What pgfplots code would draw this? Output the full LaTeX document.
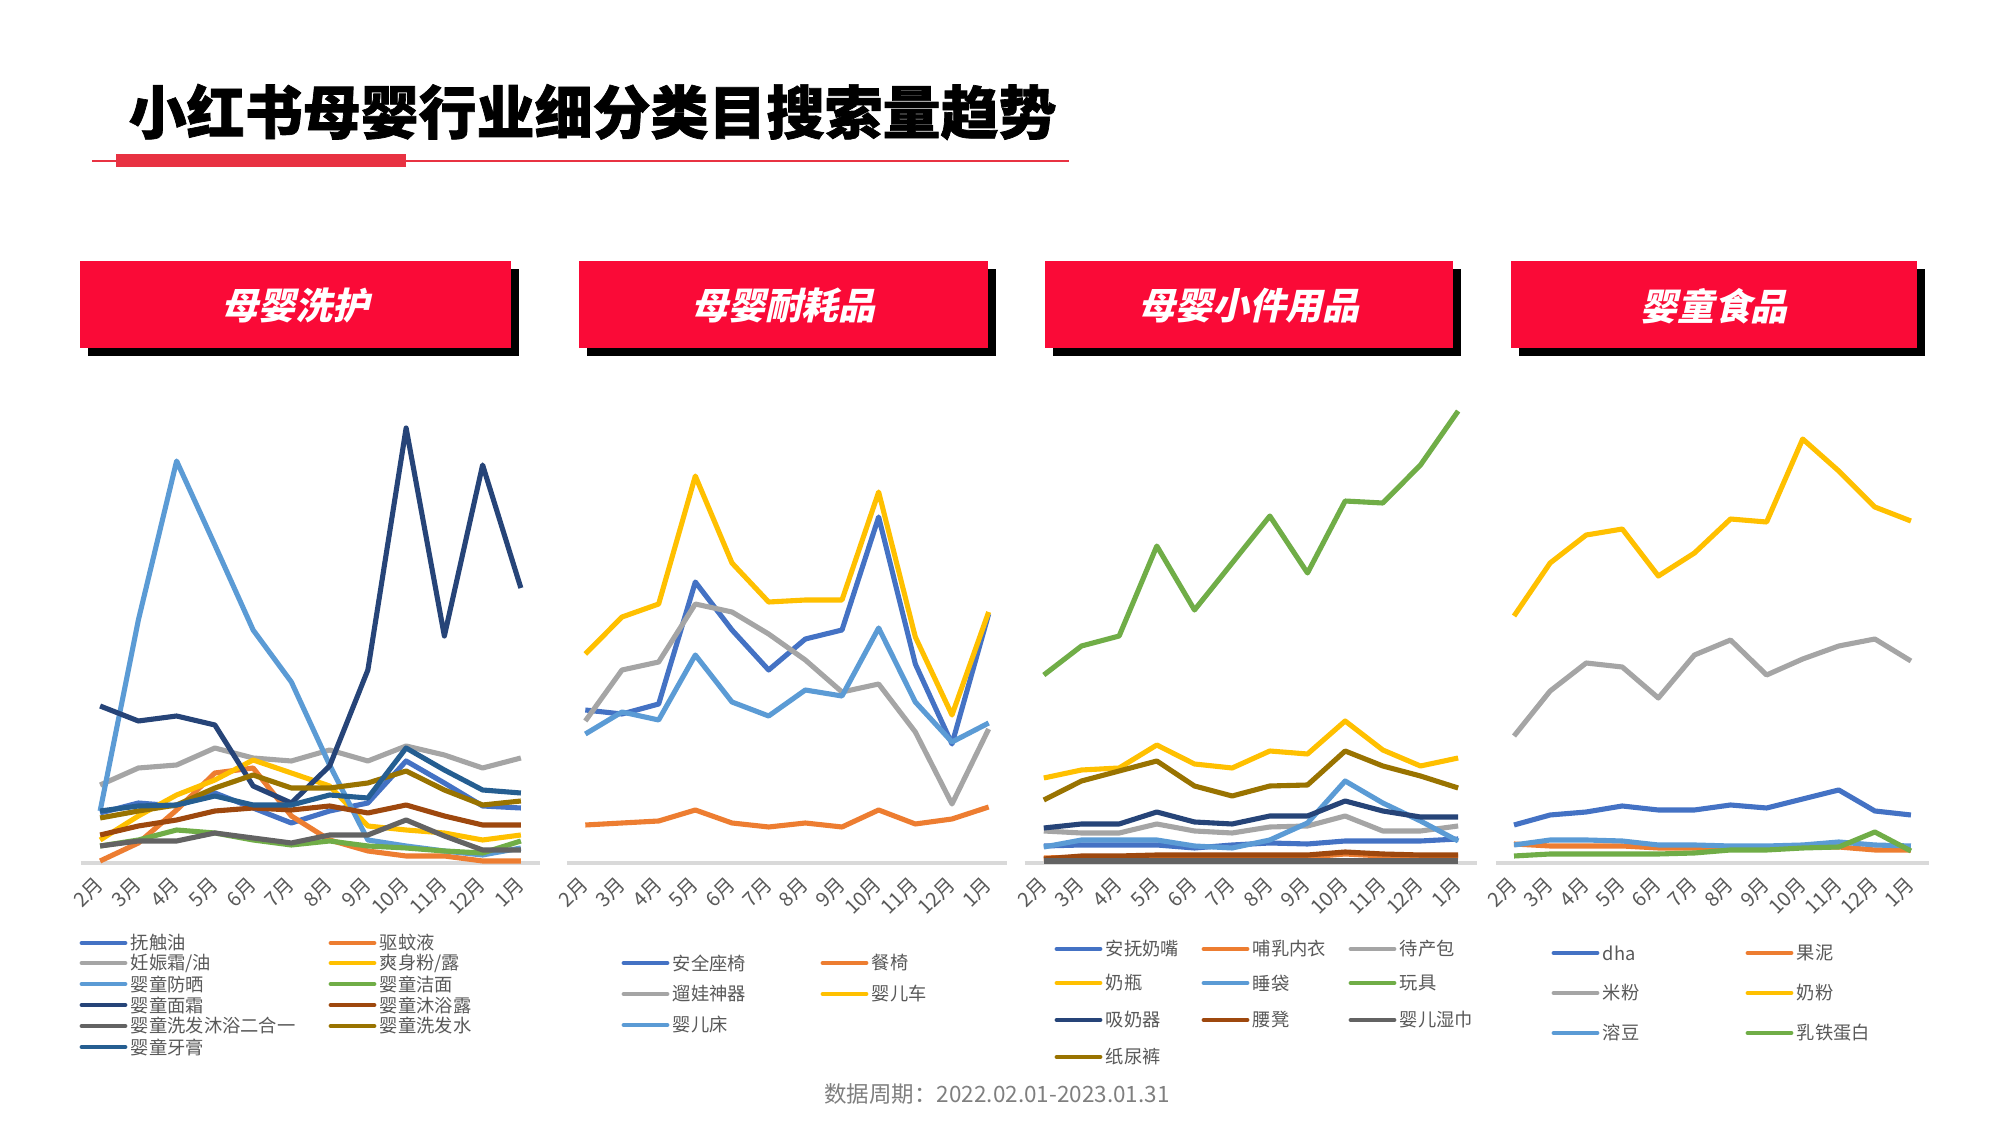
\documentclass[border=0pt]{standalone}
\usepackage{pgfplots}
\pgfplotsset{compat=1.18}
\usepackage{pgfplotstable}
\usepackage{fontspec}
\setmainfont{Noto Sans CJK SC}
\newfontfamily\hdrfam{Noto Sans CJK SC}[FakeSlant=0.22]
\newfontfamily\titlefam{Noto Sans CJK SC}[FakeBold=1.2]
\definecolor{c1}{HTML}{4472C4}
\definecolor{c2}{HTML}{ED7D31}
\definecolor{c3}{HTML}{A5A5A5}
\definecolor{c4}{HTML}{FFC000}
\definecolor{c5}{HTML}{5B9BD5}
\definecolor{c6}{HTML}{70AD47}
\definecolor{c7}{HTML}{264478}
\definecolor{c8}{HTML}{9E480E}
\definecolor{c9}{HTML}{636363}
\definecolor{c10}{HTML}{997300}
\definecolor{c11}{HTML}{255E91}
\definecolor{txtgray}{HTML}{595959}
\definecolor{footgray}{HTML}{7F7F7F}
\definecolor{axisgray}{HTML}{D9D9D9}
\definecolor{hdrred}{RGB}{250,10,55}
\definecolor{linered}{RGB}{232,50,66}

\pgfplotstableread{
x s1 s2 s3 s4 s5 s6 s7 s8 s9 s10 s11
0 50 2 78 23 52 17 157 28 17 45 52
1 60 20 95 47 243 23 142 37 22 52 57
2 57 53 98 68 402 33 147 43 22 58 58
3 70 90 115 83 318 30 138 52 30 75 67
4 55 95 105 103 233 23 77 55 25 88 58
5 40 47 102 90 181 18 60 53 20 75 58
6 52 23 113 77 98 22 97 57 28 75 68
7 60 12 102 37 23 17 193 50 28 80 65
8 102 7 117 33 17 15 435 58 43 92 115
9 80 7 108 30 12 12 227 47 27 73 93
10 57 2 95 23 8 10 398 38 13 58 73
11 55 2 105 28 15 22 275 38 13 62 70
}\tabA
\pgfplotstableread{
x s1 s2 s3 s4 s5
0 153 38 142 209 129
1 149 40 193 246 151
2 159 42 201 259 143
3 281 53 259 387 208
4 233 40 251 300 161
5 193 36 229 261 147
6 224 40 203 263 173
7 233 36 171 263 167
8 346 53 179 371 235
9 199 39 131 226 161
10 119 44 59 148 121
11 249 56 134 251 140
}\tabB
\pgfplotstableread{
x s1 s2 s3 s4 s5 s6 s7 s8 s9 s10
0 17 5 32 85 16 188 35 4 2 63
1 18 6 30 93 23 217 39 7 2 82
2 18 6 30 95 23 227 39 7 2 92
3 18 6 39 118 23 317 51 8 2 102
4 15 6 32 99 17 253 41 8 2 77
5 18 5 30 95 15 300 39 8 2 67
6 20 5 36 112 23 347 47 8 2 77
7 19 6 37 109 40 290 47 8 2 78
8 22 9 47 142 82 362 62 11 2 112
9 22 7 32 113 60 360 52 9 2 97
10 22 6 32 97 42 398 46 8 2 87
11 24 6 37 105 22 452 46 8 2 75
}\tabC
\pgfplotstableread{
x s1 s2 s3 s4 s5 s6
0 38 19 127 247 18 7
1 48 17 172 300 23 9
2 51 17 200 328 23 9
3 57 17 196 334 22 9
4 53 15 165 287 18 9
5 53 15 208 310 18 10
6 58 15 223 344 17 13
7 55 15 188 341 17 13
8 64 16 204 424 18 15
9 73 16 217 392 21 16
10 52 13 224 356 18 31
11 48 13 202 342 17 12
}\tabD

\newcommand\tickfont{\fontsize{5.7pt}{6.5pt}\selectfont}
\newcommand\legfont{\fontsize{5.2pt}{6pt}\selectfont}
\pgfplotsset{panel/.style={scale only axis, height=48mm, ymin=0, ymax=480,
  xmin=-0.5, xmax=11.5, axis x line*=bottom, axis y line=none,
  xtick={0,...,11}, xticklabels={2月,3月,4月,5月,6月,7月,8月,9月,10月,11月,12月,1月},
  x axis line style={draw=axisgray, line width=0.9pt, -},
  major tick length=0pt, ytick=\empty,
  xticklabel style={rotate=45, anchor=east, font=\tickfont, text=txtgray, inner sep=0pt},
  xticklabel shift=5pt, clip=false,
  every axis plot/.append style={line width=1.45pt, line join=round, mark=none}}}
\newcommand\leg[4]{\draw[line width=1.4pt,line cap=round,draw=#3] (#1,#2) -- ++(43,0) node[anchor=west, inner sep=0pt, xshift=0.35mm, text=txtgray, font=\legfont]{#4};}
\newcommand\hdr[3]{%
  \fill[black] (#1+8,769) rectangle (#2+8,856);
  \fill[hdrred] (#1,777) rectangle (#2,864);
  \node[text=white, font=\hdrfam\bfseries\fontsize{10.5pt}{12pt}\selectfont, inner sep=0pt] at ({(#1+#2)/2},819) {#3};}

\begin{document}
\begin{tikzpicture}[x=0.1mm,y=0.1mm]
\fill[white] (0,0) rectangle (2000,1125);
% title
\node[anchor=west, inner sep=0pt, font=\titlefam\bfseries\fontsize{16.5pt}{18pt}\selectfont] at (128,1013) {小红书母婴行业细分类目搜索量趋势};
\draw[linered, line width=0.6pt] (92,964) -- (1069,964);
\fill[linered] (116,958) rectangle (406,971);
% headers
\hdr{80}{511}{母婴洗护}
\hdr{579}{988}{母婴耐耗品}
\hdr{1045}{1453}{母婴小件用品}
\hdr{1511}{1917}{婴童食品}

% panel 1
\begin{axis}[panel, at={(8.1mm,26.2mm)}, anchor=south west, width=45.9mm]
\addplot[c1] table[x=x,y=s1]{\tabA};
\addplot[c2] table[x=x,y=s2]{\tabA};
\addplot[c3] table[x=x,y=s3]{\tabA};
\addplot[c4] table[x=x,y=s4]{\tabA};
\addplot[c5] table[x=x,y=s5]{\tabA};
\addplot[c6] table[x=x,y=s6]{\tabA};
\addplot[c7] table[x=x,y=s7]{\tabA};
\addplot[c8] table[x=x,y=s8]{\tabA};
\addplot[c9] table[x=x,y=s9]{\tabA};
\addplot[c10] table[x=x,y=s10]{\tabA};
\addplot[c11] table[x=x,y=s11]{\tabA};
\end{axis}
% panel 2
\begin{axis}[panel, at={(56.7mm,26.2mm)}, anchor=south west, width=44.0mm]
\addplot[c1] table[x=x,y=s1]{\tabB};
\addplot[c2] table[x=x,y=s2]{\tabB};
\addplot[c3] table[x=x,y=s3]{\tabB};
\addplot[c4] table[x=x,y=s4]{\tabB};
\addplot[c5] table[x=x,y=s5]{\tabB};
\end{axis}
% panel 3
\begin{axis}[panel, at={(102.5mm,26.2mm)}, anchor=south west, width=45.2mm]
\addplot[c1] table[x=x,y=s1]{\tabC};
\addplot[c2] table[x=x,y=s2]{\tabC};
\addplot[c3] table[x=x,y=s3]{\tabC};
\addplot[c4] table[x=x,y=s4]{\tabC};
\addplot[c5] table[x=x,y=s5]{\tabC};
\addplot[c6] table[x=x,y=s6]{\tabC};
\addplot[c7] table[x=x,y=s7]{\tabC};
\addplot[c8] table[x=x,y=s8]{\tabC};
\addplot[c9] table[x=x,y=s9]{\tabC};
\addplot[c10] table[x=x,y=s10]{\tabC};
\end{axis}
% panel 4
\begin{axis}[panel, at={(149.6mm,26.2mm)}, anchor=south west, width=43.3mm]
\addplot[c1] table[x=x,y=s1]{\tabD};
\addplot[c2] table[x=x,y=s2]{\tabD};
\addplot[c3] table[x=x,y=s3]{\tabD};
\addplot[c4] table[x=x,y=s4]{\tabD};
\addplot[c5] table[x=x,y=s5]{\tabD};
\addplot[c6] table[x=x,y=s6]{\tabD};
\end{axis}

% legends panel 1
\leg{82}{182}{c1}{抚触油}      \leg{331}{182}{c2}{驱蚊液}
\leg{82}{162}{c3}{妊娠霜/油}   \leg{331}{162}{c4}{爽身粉/露}
\leg{82}{141}{c5}{婴童防晒}    \leg{331}{141}{c6}{婴童洁面}
\leg{82}{120}{c7}{婴童面霜}    \leg{331}{120}{c8}{婴童沐浴露}
\leg{82}{99}{c9}{婴童洗发沐浴二合一} \leg{331}{99}{c10}{婴童洗发水}
\leg{82}{78}{c11}{婴童牙膏}
% legends panel 2
\leg{624}{162}{c1}{安全座椅}   \leg{823}{162}{c2}{餐椅}
\leg{624}{131}{c3}{遛娃神器}   \leg{823}{131}{c4}{婴儿车}
\leg{624}{100}{c5}{婴儿床}
% legends panel 3
\leg{1057}{176}{c1}{安抚奶嘴} \leg{1204}{176}{c2}{哺乳内衣} \leg{1351}{176}{c3}{待产包}
\leg{1057}{142}{c4}{奶瓶}     \leg{1204}{142}{c5}{睡袋}     \leg{1351}{142}{c6}{玩具}
\leg{1057}{105}{c7}{吸奶器}   \leg{1204}{105}{c8}{腰凳}     \leg{1351}{105}{c9}{婴儿湿巾}
\leg{1057}{68}{c10}{纸尿裤}
% legends panel 4
\leg{1554}{172}{c1}{dha}  \leg{1748}{172}{c2}{果泥}
\leg{1554}{132}{c3}{米粉} \leg{1748}{132}{c4}{奶粉}
\leg{1554}{92}{c5}{溶豆}  \leg{1748}{92}{c6}{乳铁蛋白}

% footnote
\node[text=footgray, inner sep=0pt, font=\fontsize{6.4pt}{7pt}\selectfont] at (997,31) {数据周期：2022.02.01-2023.01.31};
\end{tikzpicture}
\end{document}
